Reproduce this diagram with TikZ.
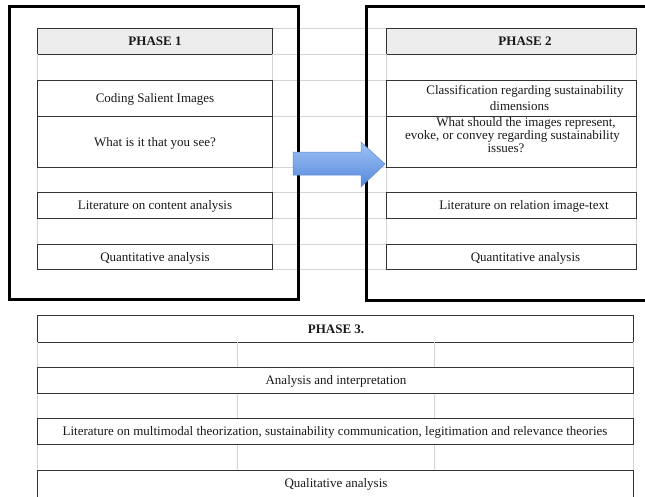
\documentclass[tikz,border=0pt]{standalone}
\usepackage{fontspec}
\setmainfont{Liberation Serif}
\begin{document}
\begin{tikzpicture}[x=1pt,y=-1pt,
  frame/.style={line width=3pt,black},
  cell/.style={draw=black!80,line width=0.9pt},
  hdr/.style={cell,fill=black!7},
  gridl/.style={draw=black!17,line width=0.8pt},
  txt/.style={font=\fontsize{13}{14}\selectfont,text=black!90,inner sep=0pt,anchor=base},
  btxt/.style={txt,font=\fontsize{13}{14}\selectfont\bfseries},
  arrowbox/.style={top color={rgb,255:red,160;green,195;blue,245},bottom color={rgb,255:red,85;green,135;blue,220},draw={rgb,255:red,95;green,140;blue,215},line width=0.5pt}]
\useasboundingbox (0,0) rectangle (645,496);
% grid lines between the tables
\foreach \y in {28,54,80,116,167,192,218,244,269}
  \draw[gridl] (272,\y) -- (386,\y);
% left and right tables
\foreach \xa/\xb in {37/272,386/636}{
  \draw[hdr] (\xa,28) rectangle (\xb,54);
  \foreach \ya/\yb in {54/80,167/192,218/244}
    \draw[gridl] (\xa,\ya) -- (\xa,\yb) (\xb,\ya) -- (\xb,\yb);
  \draw[cell] (\xa,80) rectangle (\xb,116);
  \draw[cell] (\xa,116) rectangle (\xb,167);
  \draw[cell] (\xa,192) rectangle (\xb,218);
  \draw[cell] (\xa,244) rectangle (\xb,269);
}
% bottom table
\draw[cell] (37,315) rectangle (633,342);
\foreach \ya/\yb in {342/367,393/418,444/470}
  \draw[gridl] (37,\ya) -- (37,\yb) (237,\ya) -- (237,\yb) (434,\ya) -- (434,\yb) (633,\ya) -- (633,\yb);
\draw[cell] (37,367) rectangle (633,393);
\draw[cell] (37,418) rectangle (633,444);
\draw[cell] (37,497) -- (37,470) -- (633,470) -- (633,497);
% frames
\draw[frame] (9,6) rectangle (298,299);
\draw[frame] (650,6) -- (366,6) -- (366,300) -- (650,300);
% arrow
\draw[arrowbox] (293,152) -- (361,152) -- (361,142) -- (385,164) -- (361,187) -- (361,175) -- (293,175) -- cycle;
% texts phase 1
\node[btxt] (p1) at (155,45.5) {PHASE 1};
\node[txt] (p1a) at (155,102.5) {Coding Salient Images};
\node[txt] (p1b) at (155,146) {What is it that you see?};
\node[txt] (p1c) at (155,209.5) {Literature on content analysis};
\node[txt] (p1d) at (155,261) {Quantitative analysis};
% texts phase 2
\node[btxt] (p2) at (525,45.5) {PHASE 2};
\node[txt] (p2a) at (525,94.5) {Classification regarding sustainability};
\node[txt] (p2b) at (519.5,110.5) {dimensions};
\node[txt] (p2c) at (526,126) {What should the images represent,};
\node[txt] (p2d) at (512.5,139) {evoke, or convey regarding sustainability};
\node[txt] (p2e) at (506,152) {issues?};
\node[txt] (p2f) at (524,209.5) {Literature on relation image-text};
\node[txt] (p2g) at (525.5,261) {Quantitative analysis};
% texts phase 3
\node[btxt] (p3) at (336,333) {PHASE 3.};
\node[txt] (p3a) at (336,384.5) {Analysis and interpretation};
\node[txt] (p3b) at (335,435.5) {Literature on multimodal theorization, sustainability communication, legitimation and relevance theories};
\node[txt] (p3c) at (336,487.5) {Qualitative analysis};
\end{tikzpicture}
\end{document}
